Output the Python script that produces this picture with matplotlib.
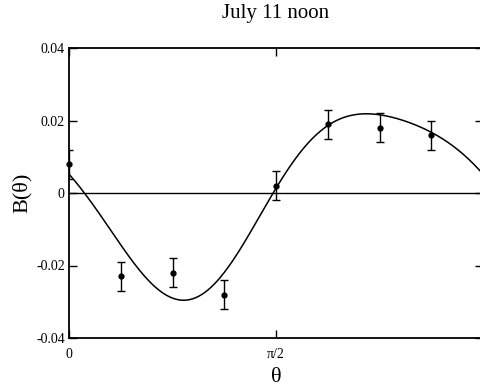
import matplotlib

matplotlib.use("Agg")
import matplotlib.pyplot as plt
import numpy as np

# measured asymmetry at theta = k*pi/8
theta_k = np.arange(8)
b_vals = [0.008, -0.023, -0.022, -0.028, 0.002, 0.019, 0.018, 0.016]
b_errs = [0.004, 0.004, 0.004, 0.004, 0.004, 0.004, 0.004, 0.004]

# points on the fitted curve (theta in units of pi)
curve_t = [0.0, 0.041, 0.123, 0.172, 0.25, 0.273, 0.304, 0.374, 0.432,
           0.49, 0.56, 0.623, 0.727, 0.874, 0.993]
curve_b = [0.0052, 0.0, -0.0148, -0.0217, -0.0283, -0.0291, -0.0288, -0.0245,
           -0.0102, 0.0, 0.010, 0.019, 0.022, 0.0165, 0.0062]

yticks = [-0.04, -0.02, 0, 0.02, 0.04]
ytick_labels = ["-0.04", "-0.02", "0", "0.02", "0.04"]
xticks = [0, np.pi / 2, np.pi]
xtick_labels = ["0", "π/2", "π"]


def harmonics(th, nmax=3):
    cols = [np.ones_like(th)]
    for n in range(1, nmax + 1):
        cols += [np.cos(2 * n * th), np.sin(2 * n * th)]
    return np.column_stack(cols)


plt.rcParams.update({"font.family": ["Liberation Serif", "DejaVu Serif"]})
fig = plt.figure(figsize=(4.8, 3.92), dpi=100, facecolor="white")
ax = fig.add_axes([69 / 480, 1 - 338 / 392, 414 / 480, 290 / 392])

x = theta_k * np.pi / 8
ct = np.array(curve_t) * np.pi
coef = np.linalg.lstsq(harmonics(ct), np.array(curve_b), rcond=None)[0]
th = np.linspace(0, np.pi, 400)
curve = harmonics(th) @ coef

ax.axhline(0, color="black", linewidth=1.0, zorder=1)
ax.plot(th, curve, color="black", linewidth=1.1, zorder=2)
# bars clipped at the frame, dots drawn whole
ax.errorbar(x, b_vals, yerr=b_errs, fmt="none", ecolor="black",
            elinewidth=1.0, capsize=3.2, capthick=1.0, zorder=3)
ax.plot(x, b_vals, "o", color="black", markersize=3.5, zorder=4, clip_on=False)

ax.set_xlim(0, np.pi)
ax.set_ylim(-0.04, 0.04)
ax.set_xticks(xticks, xtick_labels)
ax.set_yticks(yticks, ytick_labels)
ax.tick_params(direction="in", length=6, width=1.0, labelsize=10, top=True, right=True)
ax.tick_params(axis="y", pad=3)
ax.tick_params(axis="x", pad=7)
for s in ax.spines.values():
    s.set_linewidth(1.3)

fig.text(276 / 480, 1 - 18 / 392, "July 11 noon", ha="center", va="baseline", fontsize=15)
ax.set_ylabel("B(θ)", fontsize=16)
ax.yaxis.set_label_coords(-47 / 414, 0.5)
ax.yaxis.label.set_va("center")
ax.set_xlabel("θ", fontsize=16)
ax.xaxis.set_label_coords(0.5, -40 / 290)
ax.xaxis.label.set_va("center")

fig.savefig("out.png", dpi=100, facecolor="white")
